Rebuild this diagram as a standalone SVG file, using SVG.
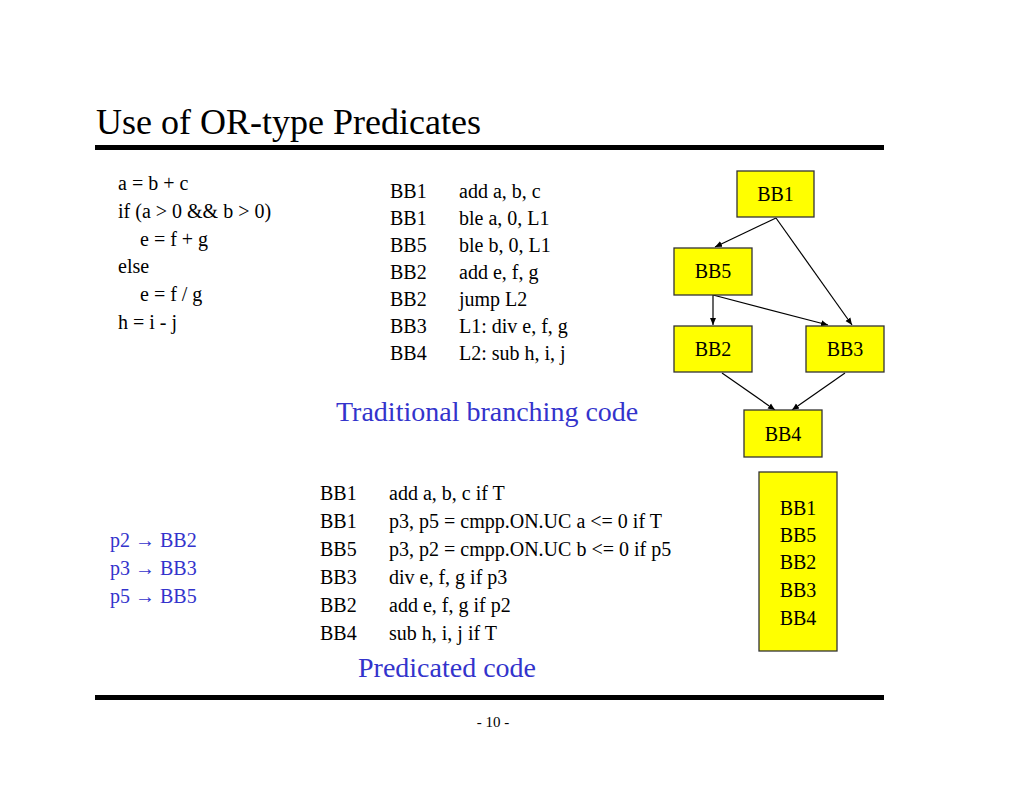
<svg xmlns="http://www.w3.org/2000/svg" width="1024" height="791" viewBox="0 0 1024 791">
<style>
text{font-family:"Liberation Serif",serif;fill:#000}
.t{font-size:20px}
.b{fill:#3333cc}
.n rect{fill:#ffff00;stroke:#333;stroke-width:1.3}
.n text{font-size:20px;text-anchor:middle}
.c line{stroke:#000;stroke-width:1.2;marker-end:url(#a)}
</style>
<defs><marker id="a" markerWidth="8" markerHeight="8" refX="7" refY="4" orient="auto" markerUnits="userSpaceOnUse"><path d="M0,1 L7,4 L0,7 z" fill="#000"/></marker></defs>
<rect width="1024" height="791" fill="#fff"/>
<text x="96" y="134" style="font-size:36px">Use of OR-type Predicates</text>
<rect x="95" y="145" width="789" height="5" fill="#000"/>
<rect x="95" y="695" width="789" height="5" fill="#000"/>
<text x="493" y="727" style="font-size:15px" text-anchor="middle">- 10 -</text>
<g class="t">
<text x="118" y="190">a = b + c</text>
<text x="118" y="218">if (a &gt; 0 &amp;&amp; b &gt; 0)</text>
<text x="140" y="246">e = f + g</text>
<text x="118" y="273">else</text>
<text x="140" y="301">e = f / g</text>
<text x="118" y="329">h = i - j</text>
</g>
<g class="t">
<text x="390" y="198">BB1</text><text x="459" y="198">add a, b, c</text>
<text x="390" y="225">BB1</text><text x="459" y="225">ble a, 0, L1</text>
<text x="390" y="252">BB5</text><text x="459" y="252">ble b, 0, L1</text>
<text x="390" y="279">BB2</text><text x="459" y="279">add e, f, g</text>
<text x="390" y="306">BB2</text><text x="459" y="306">jump L2</text>
<text x="390" y="333">BB3</text><text x="459" y="333">L1: div e, f, g</text>
<text x="390" y="360">BB4</text><text x="459" y="360">L2: sub h, i, j</text>
</g>
<text x="336" y="421" class="b" style="font-size:28px">Traditional branching code</text>
<g class="t">
<text x="320" y="500">BB1</text><text x="389" y="500">add a, b, c if T</text>
<text x="320" y="528">BB1</text><text x="389" y="528">p3, p5 = cmpp.ON.UC a &lt;= 0 if T</text>
<text x="320" y="556">BB5</text><text x="389" y="556">p3, p2 = cmpp.ON.UC b &lt;= 0 if p5</text>
<text x="320" y="584">BB3</text><text x="389" y="584">div e, f, g if p3</text>
<text x="320" y="612">BB2</text><text x="389" y="612">add e, f, g if p2</text>
<text x="320" y="640">BB4</text><text x="389" y="640">sub h, i, j if T</text>
</g>
<text x="358" y="677" class="b" style="font-size:28px">Predicated code</text>
<g class="t b">
<text x="110" y="547" class="b">p2 → BB2</text>
<text x="110" y="575" class="b">p3 → BB3</text>
<text x="110" y="603" class="b">p5 → BB5</text>
</g>
<g class="c">
<line x1="776" y1="218" x2="715" y2="247"/>
<line x1="776" y1="218" x2="852" y2="325"/>
<line x1="713" y1="295" x2="713" y2="325"/>
<line x1="713" y1="295" x2="828" y2="325"/>
<line x1="722" y1="373" x2="775" y2="410"/>
<line x1="845" y1="373" x2="792" y2="410"/>
</g>
<g id="bb1" class="n"><rect x="737" y="171" width="77" height="46"/><text x="775.5" y="201">BB1</text></g>
<g id="bb5" class="n"><rect x="674" y="248" width="78" height="47"/><text x="713" y="278">BB5</text></g>
<g id="bb2" class="n"><rect x="674" y="326" width="78" height="46"/><text x="713" y="356">BB2</text></g>
<g id="bb3" class="n"><rect x="806" y="326" width="78" height="46"/><text x="845" y="356">BB3</text></g>
<g id="bb4" class="n"><rect x="744" y="410" width="78" height="47"/><text x="783" y="441">BB4</text></g>
<g id="pred" class="n"><rect x="759" y="472" width="78" height="179"/>
<text x="798" y="515">BB1</text><text x="798" y="542">BB5</text><text x="798" y="569">BB2</text><text x="798" y="597">BB3</text><text x="798" y="625">BB4</text></g>
</svg>
